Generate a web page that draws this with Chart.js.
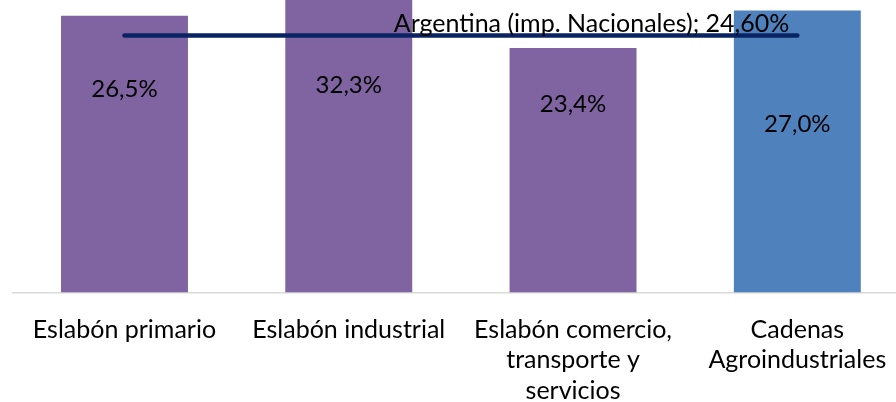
<!DOCTYPE html>
<html>
<head>
<meta charset="utf-8">
<script src="https://cdn.jsdelivr.net/npm/chart.js@4/dist/chart.umd.min.js"></script>
<style>
html,body{margin:0;padding:0;background:#fff;overflow:hidden;}
#wrap{width:896px;height:402px;position:relative;}
</style>
</head>
<body>
<div id="wrap"><canvas id="c" width="896" height="402"></canvas></div>
<script>
const categories = [
  ['Eslabón primario'],
  ['Eslabón industrial'],
  ['Eslabón comercio,', 'transporte y', 'servicios'],
  ['Cadenas', 'Agroindustriales']
];
const values = [26.5, 32.3, 23.4, 27.0];
const valueLabels = ['26,5%', '32,3%', '23,4%', '27,0%'];
const barColors = ['#8064A2', '#8064A2', '#8064A2', '#4F81BD'];
const referenceName = 'Argentina (imp. Nacionales)';
const referenceValue = 24.6;
const referenceLabel = '24,60%';

const FONT = 'Lato, "Liberation Sans", sans-serif';
const FSIZE = 25;

const labelPlugin = {
  id: 'labels',
  afterDatasetsDraw(chart, args, opts) {
    const ctx = chart.ctx;
    ctx.save();
    ctx.fillStyle = '#000';
    ctx.font = opts.valueSize + 'px ' + FONT;
    const barMeta = chart.getDatasetMeta(1);
    barMeta.data.forEach((el, i) => {
      ctx.textAlign = 'center';
      ctx.textBaseline = 'alphabetic';
      ctx.fillText(valueLabels[i], el.x, opts.baselines[i]);
    });
    ctx.font = FSIZE + 'px ' + FONT;
    const lineMeta = chart.getDatasetMeta(0);
    const last = lineMeta.data[lineMeta.data.length - 1];
    ctx.textAlign = 'right';
    ctx.fillText(referenceName + '; ' + referenceLabel, last.x - 8, last.y - 4);
    ctx.restore();
  }
};

new Chart(document.getElementById('c'), {
  data: {
    datasets: [
      {
        type: 'line',
        label: referenceName,
        data: values.map((_, i) => ({x: i, y: referenceValue})),
        borderColor: '#0A2463',
        borderWidth: 4.5,
        borderCapStyle: 'round',
        pointRadius: 0,
        fill: false,
        order: 0
      },
      {
        type: 'bar',
        label: 'Valores',
        data: values.map((v, i) => ({x: i, y: v})),
        backgroundColor: barColors,
        borderWidth: 0,
        barPercentage: 0.566,
        categoryPercentage: 1,
        order: 1
      }
    ]
  },
  options: {
    responsive: false,
    animation: false,
    layout: {padding: {left: 12.35, right: 0, top: 0, bottom: 0}},
    plugins: {
      legend: {display: false},
      tooltip: {enabled: false},
      labels: {baselines: [96.7, 93.3, 112, 131.7], valueSize: 24}
    },
    scales: {
      x: {
        type: 'linear',
        offset: false,
        min: -0.5,
        max: 3.44,
        grid: {display: false, drawTicks: false},
        border: {display: true, color: '#D9D9D9', width: 1.5},
        afterBuildTicks: s => { s.ticks = categories.map((_, i) => ({value: i})); },
        afterFit: s => { s.height = 109.5; s.paddingLeft = 0; s.paddingRight = 0; },
        ticks: {
          autoSkip: false,
          maxRotation: 0,
          minRotation: 0,
          padding: 21.75,
          color: '#000',
          font: {family: FONT, size: FSIZE, lineHeight: 1.22},
          callback: v => categories[v]
        }
      },
      y: {
        display: false,
        min: 0,
        max: 28
      }
    }
  },
  plugins: [labelPlugin]
});
</script>
</body>
</html>
